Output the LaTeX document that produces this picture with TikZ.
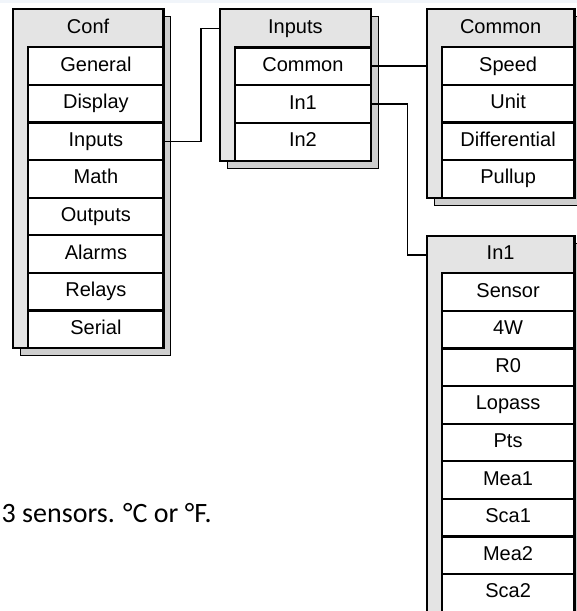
\documentclass[tikz,border=0pt]{standalone}
\usepackage{fontspec}
\setmainfont{Liberation Sans}
\newfontfamily\notefont{Carlito}
\definecolor{boxgray}{RGB}{228,228,228}
\definecolor{shadowgray}{RGB}{206,206,206}
\definecolor{topband}{RGB}{241,245,250}

\begin{document}
\begin{tikzpicture}[x=1pt,y=-1pt,menucell/.style={draw=black,fill=white,line width=2.2pt,inner sep=0pt,outer sep=0pt,minimum height=37.6pt,text height=14.3pt,text depth=4.2pt,font=\fontsize{20}{24}\selectfont},boxtitle/.style={inner sep=0pt,text height=14.3pt,text depth=4.2pt,font=\fontsize{20}{24}\selectfont}]
\tikzstyle{menubox} = [draw=black,fill=boxgray,line width=2.2pt]
\tikzstyle{boxshadow} = [fill=shadowgray]
\tikzstyle{link} = [draw,line width=1.6pt,-]
%\tikzstyle{every node}=[font=\large]

\useasboundingbox (0,0) rectangle (577,611);
\clip (0,0) rectangle (577,611);
\fill[topband] (0,0) rectangle (577,3.3);

\coordinate (confnw) at (12.7,9.3);
\coordinate (inputsnw) at (220,9.3);
\coordinate (commonnw) at (426.7,9.3);
\coordinate (inonenw) at (426.7,236);

% Conf
\filldraw[boxshadow] (19.7,16.3) rectangle (170.5,355.3);
\filldraw[menubox] (confnw) rectangle (163.5,348.3);
\node[boxtitle] (conftitle) at (88.1,28.3) {Conf};
\node[menucell,minimum width=135.2pt] (confgeneral) at (95.9,66.1) {General};
\node[menucell,minimum width=135.2pt] (confdisplay) at (95.9,103.7) {Display};
\node[menucell,minimum width=135.2pt] (confinputs) at (95.9,141.3) {Inputs};
\node[menucell,minimum width=135.2pt] (confmath) at (95.9,178.9) {Math};
\node[menucell,minimum width=135.2pt] (confoutputs) at (95.9,216.5) {Outputs};
\node[menucell,minimum width=135.2pt] (confalarms) at (95.9,254.1) {Alarms};
\node[menucell,minimum width=135.2pt] (confrelays) at (95.9,291.7) {Relays};
\node[menucell,minimum width=135.2pt] (confserial) at (95.9,329.3) {Serial};

% Inputs
\filldraw[boxshadow] (227,16.3) rectangle (377.7,167.7);
\filldraw[menubox] (inputsnw) rectangle (370.7,160.7);
\node[boxtitle] (inputstitle) at (295.4,28.3) {Inputs};
\node[menucell,minimum width=135.7pt] (inputscommon) at (302.9,66.2) {Common};
\node[menucell,minimum width=135.7pt] (inputsinone) at (302.9,104) {In1};
\node[menucell,minimum width=135.7pt] (inputsintwo) at (302.9,141.8) {In2};

% Common
\filldraw[boxshadow] (433.7,16.3) rectangle (581.5,204.7);
\filldraw[menubox] (commonnw) rectangle (574.5,197.7);
\node[boxtitle] (commontitle) at (500.6,28.3) {Common};
\node[menucell,minimum width=132.8pt] (commonspeed) at (508.1,66.1) {Speed};
\node[menucell,minimum width=132.8pt] (commonunit) at (508.1,103.7) {Unit};
\node[menucell,minimum width=132.8pt] (commondiff) at (508.1,141.3) {Differential};
\node[menucell,minimum width=132.8pt] (commonpullup) at (508.1,178.9) {Pullup};

% In1
\filldraw[boxshadow] (433.7,243) rectangle (581.5,630);
\filldraw[menubox] (inonenw) rectangle (574.5,620);
\node[boxtitle] (inonetitle) at (500.6,254.7) {In1};
\node[menucell,minimum width=132.8pt] (inonesensor) at (508.1,292.1) {Sensor};
\node[menucell,minimum width=132.8pt] (inonefourw) at (508.1,329.7) {4W};
\node[menucell,minimum width=132.8pt] (inonerzero) at (508.1,367.3) {R0};
\node[menucell,minimum width=132.8pt] (inonelopass) at (508.1,404.9) {Lopass};
\node[menucell,minimum width=132.8pt] (inonepts) at (508.1,442.5) {Pts};
\node[menucell,minimum width=132.8pt] (inonemeaone) at (508.1,480.1) {Mea1};
\node[menucell,minimum width=132.8pt] (inonescaone) at (508.1,517.7) {Sca1};
\node[menucell,minimum width=132.8pt] (inonemeatwo) at (508.1,555.3) {Mea2};
\node[menucell,minimum width=132.8pt] (inonescatwo) at (508.1,592.9) {Sca2};

% links
\coordinate (bendconf) at (200.7,141.3);
\coordinate (bendinone) at (407.3,104);
\draw[link] (confinputs.east) -- (bendconf) |- (inputstitle -| inputsnw);
\draw[link] (inputscommon.east) -- (inputscommon.east -| commonnw);
\draw[link] (inputsinone.east) -- (bendinone) |- (inonetitle -| inonenw);

\node[anchor=west,inner sep=0pt,font=\notefont\fontsize{28}{34}\selectfont] (note) at (1.5,513) {3 sensors. °C or °F.};
\end{tikzpicture}
\end{document}
